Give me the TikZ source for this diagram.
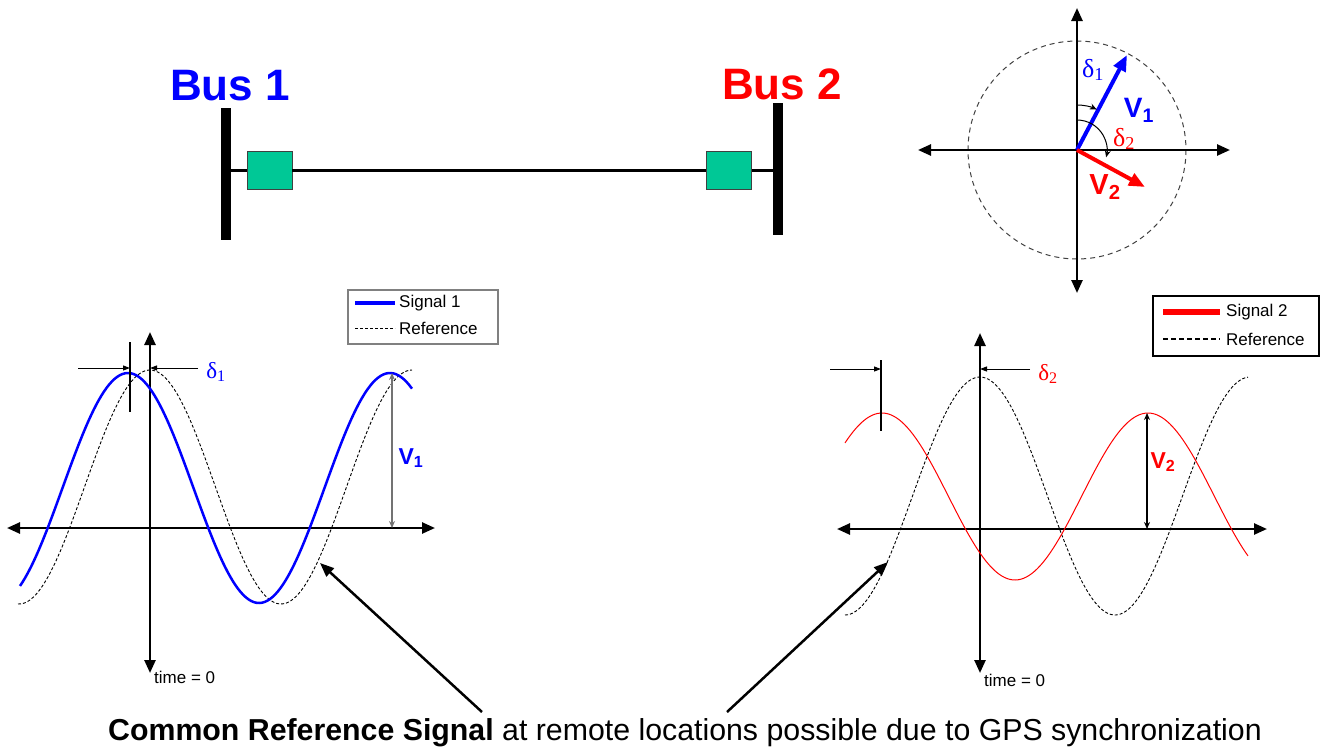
\documentclass[tikz,border=0pt]{standalone}
\usepackage{fontspec}
\setmainfont{Liberation Sans}
\newfontfamily\grkfont{Liberation Serif}
\usetikzlibrary{positioning,calc,arrows.meta}
\definecolor{relaygreen}{RGB}{0,200,150}
\newcommand{\px}[1]{\fontsize{#1}{#1}\selectfont}
\tikzset{
	axis/.style={line width=2.5pt,{Triangle[length=13pt,width=11pt]}-{Triangle[length=13pt,width=11pt]}},
	relay/.style={draw=black!75,fill=relaygreen,minimum width=45pt,minimum height=38pt,inner sep=0pt},
	busbar/.style={fill=black,minimum width=10pt,inner sep=0pt},
	dimline/.style={line width=1pt,-{Triangle[length=7pt,width=5pt]}},
	refwave/.style={black,line width=0.9pt,dash pattern=on 3pt off 2pt},
	pointer/.style={line width=2.5pt,-{Triangle[length=14pt,width=11pt]}},
}
\begin{document}
\begin{tikzpicture}[x=1pt,y=-1pt]
			\useasboundingbox (0,0) rectangle (1323,753);
			% one-line diagram
			\node[busbar,minimum height=132pt] (bus1) at (226,174) {};
			\node[busbar,minimum height=132pt] (bus2) at (778,169) {};
			\node[blue,font=\px{44}\bfseries] (lab1) at (230,86) {Bus 1};
			\node[red,font=\px{44}\bfseries] (lab2) at (782,84) {Bus 2};
			\node[relay] (r1) at (269.5,170) {};
			\node[relay] (r2) at (729,170) {};
			\draw[line width=3pt] (bus1.east |- r1.west)--(r1.west);
			\draw[line width=3pt] (r1.east)--(r2.west);
			\draw[line width=3pt] (r2.east)--(bus2.west |- r2.east);
			
			% phasors
			\coordinate (o) at (1077,150);
			\coordinate (v1) at (1127,55);
			\coordinate (v2) at (1145,187);
			\draw[black!75,line width=1pt,dash pattern=on 5pt off 4pt] (o) circle[radius=109];
			\draw[axis] (918,150)--(1230,150);
			\draw[axis] (1077,8)--(1077,293);
			\draw[blue,line width=4pt,-{Triangle[length=16pt,width=13pt]}] (o)--(v1);
			\draw[red,line width=4pt,-{Triangle[length=16pt,width=13pt]}] (o)--(v2);
			\draw[line width=1pt,-{Stealth[length=7pt,width=6pt]}] (o) ++(-90:45) arc[start angle=-90,end angle=-64,radius=45];
			\draw[line width=1pt,-{Stealth[length=7pt,width=6pt]}] (o) ++(-90:30) arc[start angle=-90,end angle=14,radius=30];
			\node[blue,font=\px{26}\grkfont] (d1) at (1093,70) {δ\textsubscript{1}};
			\node[red,font=\px{26}\grkfont] (d2) at (1124,139) {δ\textsubscript{2}};
			\node[blue,font=\px{28}\bfseries] (lv1) at (1139,110) {V\textsubscript{1}};
			\node[red,font=\px{29}\bfseries] (lv2) at (1105,187) {V\textsubscript{2}};
			
			% signal 1
			\draw[axis] (7,528)--(435,528);
			\draw[axis] (150,332)--(150,673);
			\draw[refwave] plot[domain=18:412,samples=150] (\x,{487-117*cos((\x-150)/262*360)});
			\draw[blue,line width=2.5pt] plot[domain=20:412,samples=150] (\x,{488-115*cos((\x-128)/262*360)});
			\draw[line width=2pt] (130,342)--(130,412);
			\draw[dimline] (78,368)--(130,368);
			\draw[dimline] (198,368)--(150,368);
			\node[blue,font=\px{23}\grkfont] (s1d) at (216,372) {δ\textsubscript{1}};
			\draw[black!55,line width=1.2pt,{Stealth[length=7pt,width=6pt]}-{Stealth[length=7pt,width=6pt]}] (392,373)--(392,528);
			\node[blue,font=\px{23}\bfseries] (s1v) at (411,458) {V\textsubscript{1}};
			\node[font=\px{17},anchor=west,inner sep=0pt] (t1) at (154,677) {time = 0};
			\node[draw=black!50,line width=1.5pt,minimum width=150pt,minimum height=54pt,anchor=north west,inner sep=0pt] (leg1) at (347,289) {};
			\draw[blue,line width=4pt] (355,303)--(395,303);
			\draw[refwave] (355,328)--(395,328);
			\node[font=\px{17},anchor=west,inner sep=0pt] (leg1a) at (399,303) {Signal 1};
			\node[font=\px{17},anchor=west,inner sep=0pt] (leg1b) at (399,328) {Reference};
			
			% signal 2
			\draw[axis] (837,529)--(1267,529);
			\draw[axis] (980,333)--(980,673);
			\draw[refwave] plot[domain=845:1248,samples=150] (\x,{496-119*cos((\x-980)/270*360)});
			\draw[red,line width=1pt] plot[domain=845:1248,samples=150] (\x,{496.5-83.5*cos((\x-882)/266*360)});
			\draw[line width=2pt] (881,360)--(881,431);
			\draw[dimline] (830,369)--(881,369);
			\draw[dimline] (1030,369)--(980,369);
			\node[red,font=\px{23}\grkfont] (s2d) at (1048,374) {δ\textsubscript{2}};
			\draw[line width=1.2pt,{Stealth[length=7pt,width=6pt]}-{Stealth[length=7pt,width=6pt]}] (1147,413)--(1147,529);
			\node[red,font=\px{23}\bfseries] (s2v) at (1163,462) {V\textsubscript{2}};
			\node[font=\px{17},anchor=west,inner sep=0pt] (t2) at (984,680) {time = 0};
			\node[draw=black,line width=1.5pt,minimum width=166pt,minimum height=60pt,anchor=north west,inner sep=0pt] (leg2) at (1152,295) {};
			\draw[red,line width=6pt] (1163,312)--(1220,312);
			\draw[refwave,line width=1.5pt,dash pattern=on 5pt off 3pt] (1163,339)--(1220,339);
			\node[font=\px{17},anchor=west,inner sep=0pt] (leg2a) at (1226,312) {Signal 2};
			\node[font=\px{17},anchor=west,inner sep=0pt] (leg2b) at (1226,339) {Reference};
			
			% common reference
			\node[font=\px{30.3}] (note) at (685,733) {\textbf{Common Reference Signal} at remote locations possible due to GPS synchronization};
			\coordinate (tail1) at (482,712);
			\coordinate (tail2) at (727,712);
			\coordinate (hit1) at (320,563);
			\coordinate (hit2) at (888,562);
			\draw[pointer] (tail1)--(hit1);
			\draw[pointer] (tail2)--(hit2);
		\end{tikzpicture}
\end{document}
